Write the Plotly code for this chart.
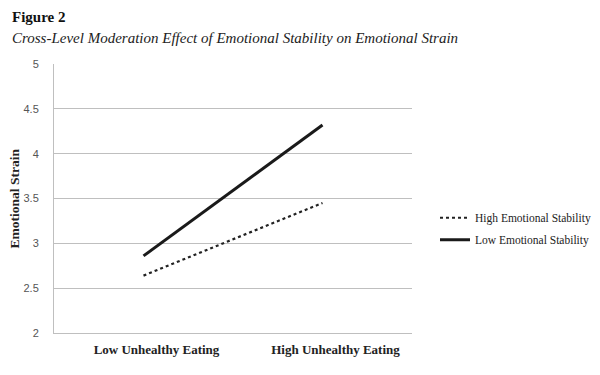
import plotly.graph_objects as go

categories = ["Low Unhealthy Eating", "High Unhealthy Eating"]
high_stability = [2.64, 3.45]
low_stability = [2.86, 4.32]
series_names = ["High Emotional Stability", "Low Emotional Stability"]

serif = "Liberation Serif, Times New Roman, serif"
sans = "Liberation Sans, Arial, sans-serif"

fig = go.Figure()
fig.add_trace(go.Scatter(x=categories, y=high_stability, mode="lines", name=series_names[0],
                         legendgroup="a",
                         line=dict(color="#222222", width=2.2, dash="dot")))
fig.add_trace(go.Scatter(x=categories, y=low_stability, mode="lines", name=series_names[1],
                         legendgroup="b",
                         line=dict(color="#1a1a1a", width=3)))

fig.update_layout(
    width=600, height=375,
    margin=dict(l=54, r=188, t=64, b=42),
    paper_bgcolor="white", plot_bgcolor="white",
    showlegend=True,
    legend=dict(xref="container", yref="container", x=0.725, y=0.39,
                xanchor="left", yanchor="middle",
                font=dict(family=serif, size=11.5, color="#222222"),
                itemwidth=30, tracegroupgap=3, bgcolor="rgba(0,0,0,0)"),
    xaxis=dict(type="category", range=[-0.5, 1.5], showgrid=False,
               showline=True, linecolor="#bfbfbf", linewidth=1,
               ticks="", ticklabelstandoff=4, ticklabelshift=13, automargin=False,
               tickfont=dict(family=serif, size=13, color="#222222", weight="bold"),
               fixedrange=True),
    yaxis=dict(range=[2, 5], dtick=0.5, showgrid=True, gridcolor="#bfbfbf", gridwidth=1,
               showline=True, linecolor="#bfbfbf", linewidth=1, zeroline=False,
               ticks="", ticklabelstandoff=12, automargin=False,
               tickfont=dict(family=sans, size=11, color="#555555"),
               fixedrange=True),
)

fig.add_annotation(text="<b>Emotional Strain</b>", xref="paper", yref="paper",
                   x=-0.109, y=0.5, xanchor="center", yanchor="middle", textangle=-90,
                   showarrow=False, font=dict(family=serif, size=13.5, color="#222222"))
fig.add_annotation(text="<b>Figure 2</b>", xref="paper", yref="paper", x=-0.1229, y=1.1747,
                   xanchor="left", yanchor="middle", showarrow=False,
                   font=dict(family=serif, size=15, color="#111111"))
fig.add_annotation(text="<i>Cross-Level Moderation Effect of Emotional Stability on Emotional Strain</i>",
                   xref="paper", yref="paper", x=-0.1229, y=1.0967, xanchor="left", yanchor="middle",
                   showarrow=False, font=dict(family=serif, size=15, color="#222222"))

fig.write_html("out.html", config={"displayModeBar": False},
               post_script="document.body.style.margin='0';")
